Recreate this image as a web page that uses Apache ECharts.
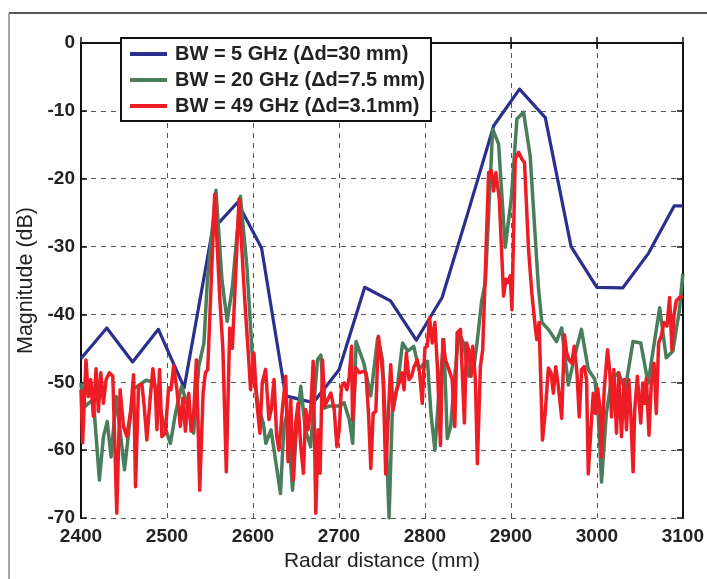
<!DOCTYPE html>
<html><head><meta charset="utf-8">
<script src="https://cdn.jsdelivr.net/npm/echarts@6/dist/echarts.min.js"></script>
<style>html,body{margin:0;padding:0;background:#fff}#c{width:707px;height:579px}</style>
</head><body><div id="c"></div>
<script>
const seriesNames = ['BW = 5 GHz (\u0394d=30 mm)', 'BW = 20 GHz (\u0394d=7.5 mm)', 'BW = 49 GHz (\u0394d=3.1mm)'];
const xTicks = [2400, 2500, 2600, 2700, 2800, 2900, 3000, 3100];
const yTicks = [-70, -60, -50, -40, -30, -20, -10, 0];

const blueX = [2400,2430,2460,2490,2520,2553,2582,2610,2638,2670,2700,2730,2760,2790,2820,2850,2880,2910,2940,2970,3000,3030,3060,3090,3100];
const blueY = [-46.5,-42,-47,-42.2,-50.8,-27.5,-23.5,-30.2,-52,-53,-48.2,-36,-38,-43.8,-37.5,-25,-12.2,-6.8,-11,-30,-36,-36.1,-31,-24,-24];

const greenX = [2400,2402.7,2408.6,2414.4,2421.4,2426.1,2430.5,2435,2441,2450.6,2461,2465.3,2475.7,2485,2496,2504,2510,2517,2524,2531,2537,2543,2547,2557,2564,2570,2576,2585.4,2593,2599,2603,2607,2612,2615,2621,2632,2636,2640,2646,2650,2655.6,2661,2667,2675,2679,2683,2689,2700,2706,2712,2716,2720,2729,2737,2745,2750.6,2755,2758.3,2762,2768,2774,2780,2787,2793,2799,2803,2807,2811.6,2816,2822,2826,2830,2834,2839.4,2845,2851,2857,2860.6,2866,2870.3,2878.8,2885.7,2893.4,2900.4,2907,2914.7,2922.4,2928,2932,2936,2943.6,2953,2959,2966.8,2974,2982,2990,2997.7,3001.5,3005.4,3011,3017,3025,3033,3042,3051,3059.6,3073,3080.7,3088.4,3096,3100];
const greenY = [-50.1,-53.8,-53.1,-52.6,-64.4,-58,-55.8,-61,-52.1,-62.9,-51,-50.6,-49.7,-50,-56,-59,-54.5,-50.6,-53.5,-57.5,-47.6,-44.2,-35,-21.7,-35,-41,-36,-22.6,-33,-45.7,-50.6,-54,-56,-59,-57,-66.4,-56.5,-54.5,-65.9,-58,-50.6,-57,-59.5,-46.7,-46,-53.8,-53.5,-53.5,-53,-55.5,-59,-44,-47.2,-52,-43.5,-46.7,-58.5,-70,-54.6,-50.6,-44.2,-45.4,-44.7,-48.1,-47.2,-46.9,-54.6,-60,-52,-43.7,-58.3,-56.5,-50,-42.7,-44.2,-49.1,-47.7,-44.2,-38,-35.3,-12.7,-14.9,-30.1,-23,-11.2,-10.2,-16.6,-28,-36,-41.2,-42.2,-44,-42,-50.4,-46.2,-42.2,-48.1,-49.6,-54.6,-64.7,-54.6,-49.6,-48.6,-51,-44,-44.2,-50.1,-39,-46.4,-45.4,-39.3,-34];

const redX = [2400,2401.9,2405.8,2408.6,2411.3,2414.4,2417.5,2420.2,2423,2426.1,2429.2,2433.1,2437,2441.6,2445.5,2449.4,2453.3,2458,2461.1,2463.4,2466.9,2470.8,2473.5,2476.6,2480.5,2483.6,2486.4,2488.3,2491.4,2494.1,2498,2501.9,2504.6,2507.8,2511.6,2515.5,2518.6,2521.4,2525.3,2528,2531.1,2534.2,2538.1,2542,2544.7,2547.4,2555.5,2561.5,2565,2569,2573,2576,2583.8,2590.4,2595.3,2597.2,2601.1,2604.2,2608.1,2610.8,2614.7,2618.6,2621.3,2624.5,2627.6,2630.3,2634.2,2638.1,2640.8,2643.9,2647,2649.7,2652.5,2655.6,2658.7,2661.4,2664.1,2667.2,2670,2673.1,2675.8,2678.1,2680.9,2683.6,2686.7,2690.6,2694.5,2697.6,2700.3,2703,2706.1,2709.3,2712,2714.7,2715.8,2719.7,2723.6,2728.2,2731.3,2734.4,2737.1,2739.8,2742.9,2745.9,2748.6,2751.4,2754.4,2757.5,2760.2,2762.9,2766,2769.9,2773,2775.7,2778.4,2781.5,2784.6,2787.3,2791.1,2793.8,2796.9,2800,2802.7,2805.4,2808.5,2811.6,2814.3,2818.1,2820.8,2823.9,2827.8,2831.7,2834.7,2837.5,2841.3,2843.2,2845.9,2848.3,2851,2853.7,2855.6,2858.7,2861,2864.5,2867.2,2874.1,2877.2,2879.9,2882.6,2886.5,2891.5,2894.2,2896.5,2899.2,2901.2,2905,2908.9,2912.7,2915.8,2920.5,2924.3,2928.2,2930.1,2932.8,2936.7,2939.8,2943.6,2946.7,2949.4,2952.1,2955.2,2959.1,2962.2,2964.9,2967.6,2970.7,2973.7,2976.8,2979.5,2982.2,2985.3,2988,2990,2993,2995.8,2998.5,3000.8,3003.5,3005.4,3008.5,3012.4,3015.1,3017,3019.7,3022.8,3025.5,3028.6,3031.7,3034.4,3037.1,3039.4,3042.1,3044,3047.1,3051,3053.3,3055.6,3057.5,3060.6,3063.3,3066.4,3069.1,3071.8,3074.9,3078,3081.5,3084.6,3087.3,3089.6,3092.3,3096.1,3100];
const redY = [-51.1,-58.9,-46.7,-52.1,-49.6,-55,-48,-54.3,-48.6,-53.1,-49.6,-48.6,-49.1,-69.3,-51.1,-56.5,-58,-54,-48.9,-65.4,-50.6,-50.3,-53.5,-58.5,-52.3,-48,-51.1,-57,-48.1,-58,-57.5,-50.8,-51.1,-47.6,-51.1,-56.5,-52.3,-57.2,-51.6,-57.2,-54.5,-46.7,-65.9,-51.6,-48.6,-48.1,-22.3,-37.8,-45,-63.2,-42,-45,-23,-37.8,-47.1,-51.1,-45.7,-52.6,-57.5,-50.1,-48.1,-55.5,-54,-49.6,-58,-60,-54,-49.1,-61.7,-52.6,-64.4,-56,-53.1,-59.5,-63.4,-54,-57,-54,-46.9,-69.3,-57,-63.4,-46.7,-53.5,-52.6,-51.6,-54,-59.5,-57,-50.6,-50.1,-51.1,-49.1,-44.7,-55.6,-47.9,-48.6,-48.4,-48.6,-54.6,-62.7,-54.6,-54.3,-43.2,-45.7,-49.6,-63.5,-54.6,-47.4,-54.1,-51.6,-50.1,-48.6,-51.1,-45.7,-49.6,-49.1,-47.7,-46.7,-48.6,-53.1,-44.9,-44.7,-40.5,-44.2,-41.2,-47.2,-59.3,-43.7,-46.7,-48.1,-49.6,-56.5,-42.7,-42.2,-42,-56,-44.2,-45.2,-49.1,-44.7,-49.6,-62,-47.7,-45.2,-19.1,-18.8,-21.8,-19.1,-23,-37.3,-34.8,-35.3,-34.3,-39.3,-17.1,-16.1,-17.1,-17.6,-30.4,-36.8,-41.7,-43.7,-41.2,-58.5,-54.6,-47.9,-48.6,-51.6,-47.7,-50.6,-55.3,-43,-45.7,-46.7,-47.2,-44.7,-48.6,-55.1,-48.1,-47.7,-49.6,-63.5,-57,-51.6,-54.6,-50.9,-53.6,-61,-51.1,-45.2,-48.6,-55.1,-48.1,-57.5,-48.6,-58,-49.6,-57,-49.6,-54.6,-63.2,-54.1,-49.1,-56,-50.1,-53.1,-49.4,-57.8,-50.1,-47.2,-54.6,-44.2,-43.2,-41.2,-41.7,-37.5,-45.2,-40.2,-38,-37.5,-37.3];

const colors = ['#2b2f8e', '#4a7d5b', '#ee1c25'];
const widths = [3.2, 3.5, 3.5];
function pairs(xs, ys) { return xs.map((x, i) => [x, ys[i]]); }
const seriesData = [pairs(blueX, blueY), pairs(greenX, greenY), pairs(redX, redY)];

const chart = echarts.init(document.getElementById('c'), null, {renderer: 'canvas'});
const font = 'Liberation Sans, Arial, Helvetica, sans-serif';
const gridLine = {show: true, lineStyle: {color: '#555', width: 1, type: [5, 5]}};
const axLine = {show: true, lineStyle: {color: '#111', width: 2}};
const tick = {show: true, inside: true, length: 6, lineStyle: {color: '#111', width: 1.5}};
chart.setOption({
  animation: false,
  backgroundColor: '#fff',
  textStyle: {fontFamily: font},
  grid: {left: 81, right: 23, top: 43, bottom: 61, containLabel: false},
  graphic: [
    {type: 'line', shape: {x1: 9, y1: 13, x2: 707, y2: 13}, style: {stroke: '#222', lineWidth: 1.5}, silent: true},
    {type: 'line', shape: {x1: 9, y1: 13, x2: 9, y2: 579}, style: {stroke: '#888', lineWidth: 1.5}, silent: true}
  ],
  legend: {
    orient: 'vertical', left: 121, top: 38,
    backgroundColor: '#fff', borderColor: '#111', borderWidth: 2,
    padding: [6, 6, 5, 9], itemGap: 6,
    itemWidth: 37, itemHeight: 4, icon: 'rect',
    textStyle: {fontSize: 20, fontWeight: 'bold', color: '#222', fontFamily: font, padding: [1, 0, 0, 3]},
    data: seriesNames
  },
  xAxis: [{
    type: 'value', min: 2400, max: 3100, interval: 100,
    name: 'Radar distance (mm)', nameLocation: 'middle', nameGap: 27,
    nameTextStyle: {fontSize: 21, color: '#222', fontFamily: font},
    axisLine: axLine, axisTick: tick, splitLine: gridLine,
    axisLabel: {fontSize: 19, fontWeight: 'bold', color: '#222', margin: 9, fontFamily: font,
      formatter: v => xTicks.includes(v) ? String(v) : ''}
  }, {
    type: 'value', position: 'top', min: 2400, max: 3100, interval: 100,
    axisLine: axLine, axisTick: tick, splitLine: {show: false}, axisLabel: {show: false}
  }],
  yAxis: [{
    type: 'value', min: -70, max: 0, interval: 10,
    name: 'Magnitude (dB)', nameLocation: 'middle', nameGap: 44,
    nameTextStyle: {fontSize: 21.5, color: '#222', fontFamily: font},
    axisLine: axLine, axisTick: tick, splitLine: gridLine,
    axisLabel: {fontSize: 19, fontWeight: 'bold', color: '#222', margin: 6, fontFamily: font,
      formatter: v => yTicks.includes(v) ? String(v) : ''}
  }, {
    type: 'value', position: 'right', min: -70, max: 0, interval: 10,
    axisLine: axLine, axisTick: tick, splitLine: {show: false}, axisLabel: {show: false}
  }],
  series: seriesNames.map((n, i) => ({
    name: n, type: 'line', data: seriesData[i], showSymbol: false, symbol: 'none',
    clip: true, z: 2 + i,
    lineStyle: {color: colors[i], width: widths[i], join: 'round'},
    itemStyle: {color: colors[i]}
  }))
});
</script></body></html>
